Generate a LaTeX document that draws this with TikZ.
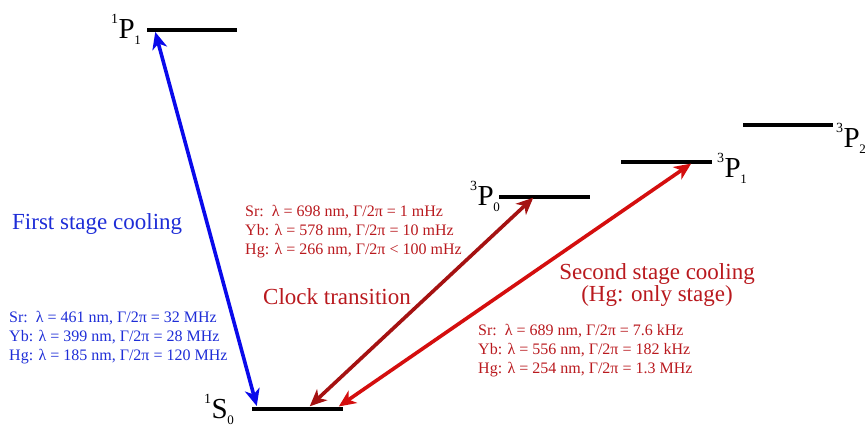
\documentclass[tikz,border=0pt]{standalone}
\usepackage{fontspec}
\setmainfont{Liberation Serif}
\usepackage{tikz}
\usetikzlibrary{arrows.meta}
\definecolor{bluearr}{RGB}{10,10,235}
\definecolor{bluetxt}{RGB}{30,45,215}
\definecolor{clockred}{RGB}{165,18,18}
\definecolor{coolred}{RGB}{212,14,14}
\definecolor{redtxt}{RGB}{185,25,30}
\newcommand\lev[3]{\raisebox{15pt}{\fontsize{14}{14}\selectfont#1}\kern.5pt#2\kern-.5pt\raisebox{-6pt}{\fontsize{13}{13}\selectfont#3}}
\newcommand\bigtxt{\fontsize{23}{19}\selectfont}
\newcommand\smalltxt{\fontsize{16}{19}\selectfont}

\begin{document}
\begin{tikzpicture}[x=1pt,y=-1pt,>={Stealth[length=17pt,width=15pt,inset=5pt]},
  level/.style={line width=3.6pt},
  trans/.style={<->,line width=3.6pt,shorten <=1pt,shorten >=1pt},
  every node/.style={inner sep=0pt}]
\useasboundingbox (0,0) rectangle (865,424);
% energy levels
\coordinate (P1a) at (147,30); \coordinate (P1b) at (237,30);
\coordinate (S0a) at (252,409); \coordinate (S0b) at (343,409);
\coordinate (P0a) at (499,197); \coordinate (P0b) at (590,197);
\coordinate (T1a) at (621,162); \coordinate (T1b) at (712,162);
\coordinate (T2a) at (743,125); \coordinate (T2b) at (833,125);
\draw[level] (P1a)--(P1b); \draw[level] (S0a)--(S0b); \draw[level] (P0a)--(P0b);
\draw[level] (T1a)--(T1b); \draw[level] (T2a)--(T2b);
\node[anchor=base east,font=\fontsize{29}{29}\selectfont] (lP1) at (141,38){\lev{1}{P}{1}};
\node[anchor=base east,font=\fontsize{29}{29}\selectfont] (lS0) at (234,418){\lev{1}{S}{0}};
\node[anchor=base east,font=\fontsize{29}{29}\selectfont] (lP0) at (500,205){\lev{3}{P}{0}};
\node[anchor=base west,font=\fontsize{29}{29}\selectfont] (lT1) at (717,177){\lev{3}{P}{1}};
\node[anchor=base west,font=\fontsize{29}{29}\selectfont] (lT2) at (836,147){\lev{3}{P}{2}};
% transitions
\coordinate (b0) at (257,407); \coordinate (b1) at (155,31);
\coordinate (c0) at (309,407); \coordinate (c1) at (534,197);
\coordinate (r0) at (338,407); \coordinate (r1) at (692,163);
\draw[trans,bluearr] (b0)--(b1); \draw[trans,clockred] (c0)--(c1); \draw[trans,coolred] (r0)--(r1);
% labels (base = last line)
\node[anchor=base west,bluetxt,font=\bigtxt] (first) at (12,229){First stage cooling};
\node[anchor=base west,bluetxt,font=\smalltxt,align=left] (firstdat) at (9,360){Sr:\ \ λ = 461 nm, Γ/2π = 32 MHz\\Yb: λ = 399 nm, Γ/2π = 28 MHz\\Hg: λ = 185 nm, Γ/2π = 120 MHz};
\node[anchor=base west,redtxt,font=\bigtxt] (clock) at (263,304){Clock transition};
\node[anchor=base west,redtxt,font=\smalltxt,align=left] (clockdat) at (245,254){Sr:\ \ λ = 698 nm, Γ/2π = 1 mHz\\Yb: λ = 578 nm, Γ/2π = 10 mHz\\Hg: λ = 266 nm, Γ/2π < 100 mHz};
\node[anchor=base,redtxt,font=\bigtxt,align=center] (second) at (657,301){Second stage cooling\\(Hg: only stage)};
\node[anchor=base west,redtxt,font=\smalltxt,align=left] (seconddat) at (478,373){Sr:\ \ λ = 689 nm, Γ/2π = 7.6 kHz\\Yb: λ = 556 nm, Γ/2π = 182 kHz\\Hg: λ = 254 nm, Γ/2π = 1.3 MHz};
\end{tikzpicture}
\end{document}
